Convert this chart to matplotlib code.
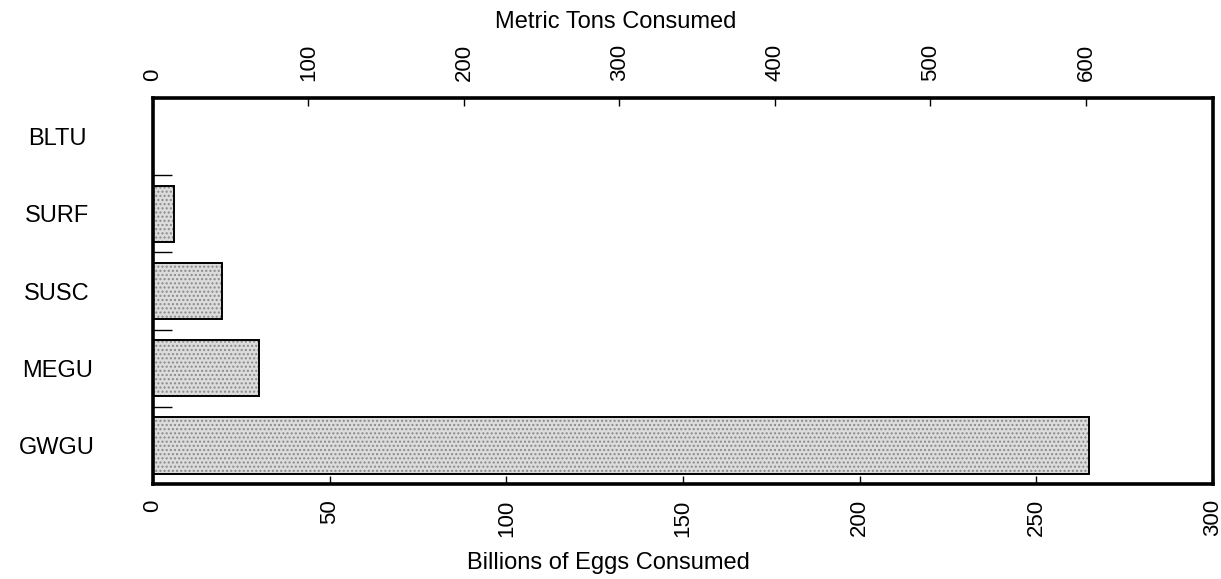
import matplotlib.pyplot as plt
import numpy as np

plt.rcParams['font.family'] = ['Liberation Sans', 'DejaVu Sans']

species = ['GWGU', 'MEGU', 'SUSC', 'SURF', 'BLTU']
eggs = [265, 30, 19.5, 6, 0]          # billions of eggs consumed
tons_per_billion = 2.272              # metric tons per billion eggs

eggs_ticks = [0, 50, 100, 150, 200, 250, 300]
tons_ticks = [0, 100, 200, 300, 400, 500, 600]

fig = plt.figure(figsize=(12.21, 5.79), dpi=100)
ax = fig.add_axes([0.1253, 0.164, 0.868, 0.6666])

y = np.arange(len(species))
# stippled fill, then black outline on top
ax.barh(y, eggs, height=0.73, color='#dcdcdc', hatch='....',
        edgecolor='#8a8a8a', linewidth=0)
ax.barh(y, eggs, height=0.73, fill=False, edgecolor='black', linewidth=1.4)

ax.set_xlim(0, 300)
ax.set_ylim(-0.5, 4.5)

ax.set_xticks(eggs_ticks)
ax.set_xticklabels([str(t) for t in eggs_ticks], rotation=90, fontsize=16)
ax.tick_params(axis='x', direction='in', length=6, width=1, pad=11)

ax.set_yticks(y)
ax.set_yticklabels(species, fontsize=17)
ax.tick_params(axis='y', which='major', length=0, pad=69)
for lab in ax.get_yticklabels():
    lab.set_horizontalalignment('center')
ax.set_yticks(np.arange(0.5, 4.0, 1), minor=True)
ax.tick_params(axis='y', which='minor', direction='in', length=14, width=1)

for s in ax.spines.values():
    s.set_linewidth(2.6)

top = ax.secondary_xaxis('top', functions=(lambda e: e * tons_per_billion,
                                           lambda t: t / tons_per_billion))
top.set_xticks(tons_ticks)
top.set_xticklabels([str(t) for t in tons_ticks], rotation=90, fontsize=16)
top.tick_params(direction='in', length=6, width=1, pad=12)

# axis titles sit left of the axes centre in the original
fig.text(608 / 1221, 1 - 563 / 579, 'Billions of Eggs Consumed',
         fontsize=17, ha='center', va='center')
fig.text(616 / 1221, 1 - 22 / 579, 'Metric Tons Consumed',
         fontsize=17, ha='center', va='center')

fig.savefig('out.png', dpi=100)
